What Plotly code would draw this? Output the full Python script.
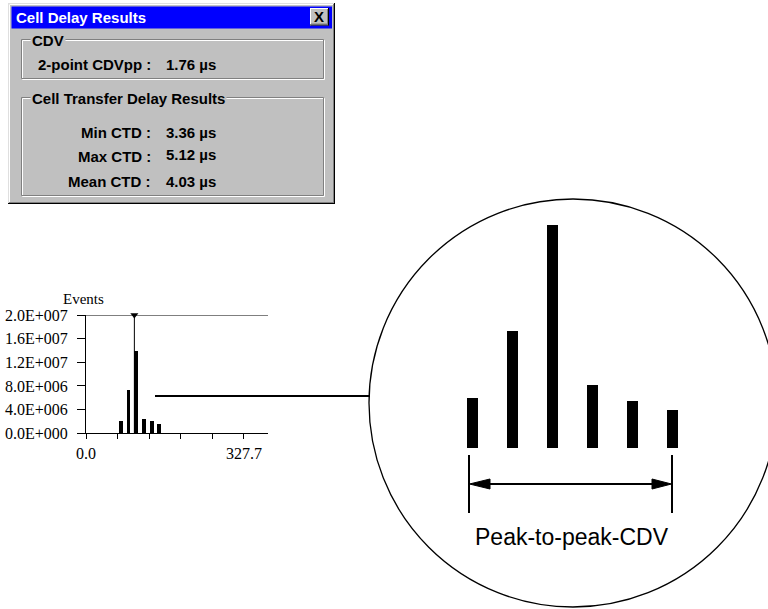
import plotly.graph_objects as go

W, H = 768, 609

# ---------------- data ----------------
# small histogram (Events vs. delay)
hist_delay = [72, 88, 104, 120, 136, 152]
hist_events = [2.0e6, 7.4e6, 13.9e6, 2.5e6, 2.1e6, 1.6e6]
cursor_delay = 100.3
cursor_events = 2.0e7
x_tickvals = [0, 65.54, 131.08, 196.62, 262.16, 327.7]
x_ticktext = ["0.0", "", "", "", "", "327.7"]
y_tickvals = [0, 4e6, 8e6, 1.2e7, 1.6e7, 2.0e7]
y_ticktext = ["0.0E+000", "4.0E+006", "8.0E+006", "1.2E+007", "1.6E+007", "2.0E+007"]

# zoomed illustration bars (relative heights)
zoom_pos = [1, 2, 3, 4, 5, 6]
zoom_heights = [50, 117, 223, 63, 47, 38]
zoom_label = "Peak-to-peak-CDV"

# dialog texts
dialog_title = "Cell Delay Results"
group1_title = "CDV"
group2_title = "Cell Transfer Delay Results"
cdv_labels = ["2-point CDVpp :"]
cdv_values = ["1.76 µs"]
ctd_labels = ["Min CTD :", "Max CTD :", "Mean CTD :"]
ctd_values = ["3.36 µs", "5.12 µs", "4.03 µs"]


def px(x):
    return x / W


def py(y):
    return 1 - y / H


shapes = []
annotations = []


def rect(x0, y0, x1, y1, fill=None, color=None, width=0):
    d = dict(type="rect", xref="paper", yref="paper",
             x0=px(x0), y0=py(y0), x1=px(x1), y1=py(y1),
             line=dict(width=width, color=color or "rgba(0,0,0,0)"), layer="below")
    if fill:
        d["fillcolor"] = fill
    shapes.append(d)


def line(x0, y0, x1, y1, color="black", width=1, layer="above"):
    shapes.append(dict(type="line", xref="paper", yref="paper",
                       x0=px(x0), y0=py(y0), x1=px(x1), y1=py(y1),
                       line=dict(color=color, width=width), layer=layer))


def text(x, y, s, size=15, color="black", xanchor="left", bold=True,
         family="Liberation Sans", bg=None, pad=0):
    a = dict(x=px(x), y=py(y), xref="paper", yref="paper", text=s, showarrow=False,
             xanchor=xanchor, yanchor="middle",
             font=dict(family=family, size=size, color=color,
                       weight="bold" if bold else "normal"),
             borderpad=pad)
    if bg:
        a["bgcolor"] = bg
    annotations.append(a)


# ---------------- dialog window ----------------
GRAY = "#c0c0c0"
DARK = "#808080"
rect(8, 3, 335, 204, fill=GRAY)
line(8.5, 3, 8.5, 204, "#dfdfdf", 1, "below")
line(8, 3.5, 335, 3.5, "#dfdfdf", 1, "below")
line(9.5, 4.5, 9.5, 202, "white", 1, "below")
line(9.5, 4.5, 333, 4.5, "white", 1, "below")
line(334.5, 3, 334.5, 204, "black", 1, "below")
line(8, 203.5, 335, 203.5, "black", 1, "below")
line(333.5, 4, 333.5, 203, DARK, 1, "below")
line(9, 202.5, 334, 202.5, DARK, 1, "below")
# title bar
rect(11.5, 6.5, 332, 28.5, fill="#0000ff")
text(15, 17.5, dialog_title, size=15, color="white")
# close button
rect(310, 8, 329, 25.5, fill=GRAY)
line(310, 8.5, 329, 8.5, "white", 1)
line(310.5, 8, 310.5, 25.5, "white", 1)
line(328.5, 8, 328.5, 25.5, "black", 1)
line(310, 25, 329, 25, "black", 1)
line(327.5, 9, 327.5, 24.5, DARK, 1)
line(311, 24, 328, 24, DARK, 1)
text(319, 17, "X", size=15, xanchor="center")

# group boxes (etched)
for (y0, y1) in [(40, 79), (98, 196)]:
    shapes.append(dict(type="rect", xref="paper", yref="paper",
                       x0=px(22.5), y0=py(y0 + 0.5), x1=px(324.5), y1=py(y1 + 0.5),
                       line=dict(color="white", width=1), layer="below"))
    shapes.append(dict(type="rect", xref="paper", yref="paper",
                       x0=px(21.5), y0=py(y0 - 0.5), x1=px(323.5), y1=py(y1 - 0.5),
                       line=dict(color=DARK, width=1), layer="below"))
text(30, 40.5, group1_title, bg=GRAY, pad=1)
text(30, 98.5, group2_title, bg=GRAY, pad=1)

# rows
for lab, val, yy in zip(cdv_labels, cdv_values, [65]):
    text(152, yy, lab, xanchor="right")
    text(165, yy, val)
for lab, val, yy in zip(ctd_labels, ctd_values, [132.5, 156.5, 181.5]):
    text(152, yy, lab, xanchor="right")
    text(165, yy - (2 if lab.startswith("Max") else 0), val)

# ---------------- small histogram ----------------
fig = go.Figure()
fig.add_trace(go.Bar(x=hist_delay, y=hist_events, width=8,
                     marker=dict(color="black", line=dict(width=0)),
                     xaxis="x", yaxis="y", showlegend=False))
fig.add_trace(go.Scatter(x=[cursor_delay, cursor_delay], y=[0, cursor_events],
                         mode="lines", line=dict(color="black", width=1),
                         xaxis="x", yaxis="y", showlegend=False, cliponaxis=False))
fig.add_trace(go.Scatter(x=[cursor_delay], y=[cursor_events], mode="markers",
                         marker=dict(symbol="triangle-down", size=7, color="black"),
                         xaxis="x", yaxis="y", showlegend=False, cliponaxis=False))
# top reference line at max events
shapes.append(dict(type="line", xref="x", yref="y", x0=0, x1=377.5,
                   y0=y_tickvals[-1], y1=y_tickvals[-1],
                   line=dict(color="black", width=1)))
text(83.5, 298.5, "Events", size=15, bold=False, family="Liberation Serif",
     xanchor="center")

# connector line
line(155, 396, 370, 396, "black", 2)

# ---------------- zoomed illustration ----------------
shapes.append(dict(type="circle", xref="paper", yref="paper",
                   x0=px(369), x1=px(777), y0=py(607), y1=py(199),
                   line=dict(color="black", width=1.3)))
fig.add_trace(go.Bar(x=zoom_pos, y=zoom_heights, width=0.275,
                     marker=dict(color="black", line=dict(width=0)),
                     xaxis="x2", yaxis="y2", showlegend=False))
# dimension lines + arrow
line(469, 455, 469, 513, "black", 2)
line(672, 455, 672, 513, "black", 2)
line(480, 484, 662, 484, "black", 2)
shapes.append(dict(type="path", xref="paper", yref="paper",
                   path=f"M {px(469.5)},{py(484)} L {px(490)},{py(479)} L {px(490)},{py(489)} Z",
                   fillcolor="black", line=dict(color="black", width=1)))
shapes.append(dict(type="path", xref="paper", yref="paper",
                   path=f"M {px(671.5)},{py(484)} L {px(652)},{py(479)} L {px(652)},{py(489)} Z",
                   fillcolor="black", line=dict(color="black", width=1)))
text(571.5, 536.5, zoom_label, size=23, bold=False, xanchor="center")

fig.update_layout(
    template="none",
    width=W, height=H, margin=dict(l=0, r=0, t=0, b=0, pad=0, autoexpand=False),
    paper_bgcolor="white", plot_bgcolor="rgba(0,0,0,0)",
    showlegend=False, bargap=0,
    xaxis=dict(domain=[px(86), px(268)], range=[0, 377.5], anchor="y",
               automargin=False,
               tickvals=x_tickvals, ticktext=x_ticktext, ticks="outside",
               ticklen=5, tickcolor="black", showline=True, linecolor="black",
               linewidth=1, showgrid=False, zeroline=False,
               tickfont=dict(family="Liberation Serif", size=16, color="black"),
               fixedrange=True),
    yaxis=dict(domain=[py(433.3), py(315)], range=[0, 2.0e7], anchor="x",
               automargin=False, ticklabelstandoff=6,
               tickvals=y_tickvals, ticktext=y_ticktext, ticks="outside",
               ticklen=8, tickcolor="black", showline=True, linecolor="black",
               linewidth=1, showgrid=False, zeroline=False,
               tickfont=dict(family="Liberation Serif", size=16, color="black"),
               fixedrange=True),
    xaxis2=dict(domain=[px(431.5), px(711.5)], range=[0, 7], anchor="y2",
                visible=False, fixedrange=True, automargin=False),
    yaxis2=dict(domain=[py(448.3), py(200)], range=[0, 248.3], anchor="x2",
                visible=False, fixedrange=True, automargin=False),
    shapes=shapes, annotations=annotations,
)

fig.write_html("out.html", config={"displayModeBar": False},
               post_script="document.body.style.margin='0';document.body.style.overflow='hidden';")
